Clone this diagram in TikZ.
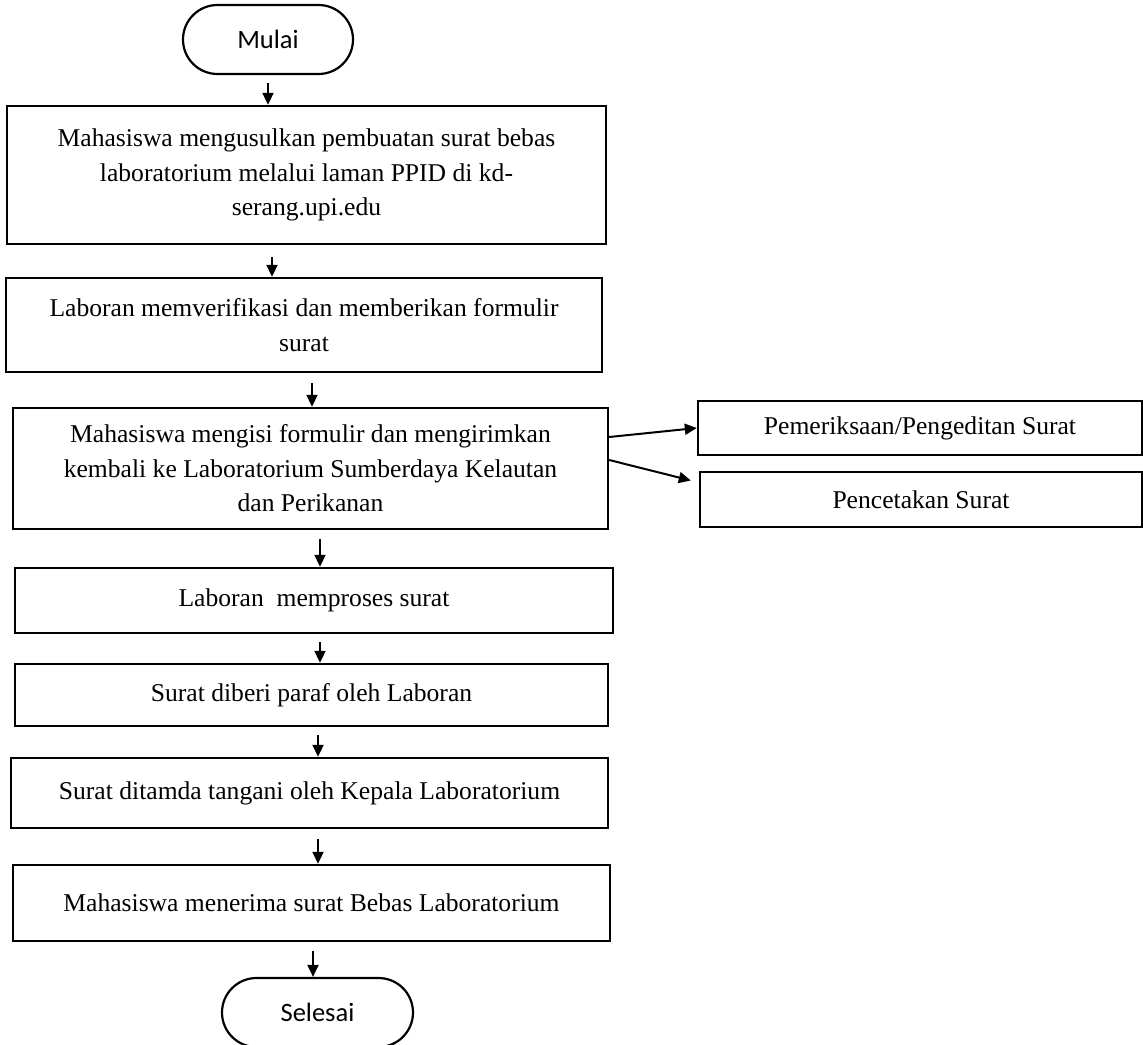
\documentclass[tikz,border=0pt]{standalone}
\usepackage{fontspec}
\setmainfont{Liberation Serif}
\newfontfamily\termfont{Carlito}
\usetikzlibrary{shapes.misc,arrows.meta}
\begin{document}
\begin{tikzpicture}[x=1pt,y=-1pt,
  box/.style={draw,line width=2.4pt,align=center,inner sep=0pt,
    font=\fontsize{25.6}{34.5}\selectfont},
  term/.style={draw,line width=2.2pt,rounded rectangle,inner sep=0pt,
    font=\termfont\fontsize{26.5}{30}\selectfont},
  flow/.style={line width=2pt,-{Triangle[length=12pt,width=11pt]}}]
\useasboundingbox (0,0) rectangle (1143,1044);
\clip (0,0) rectangle (1143,1044);

% terminators
\node[term,minimum width=170pt,minimum height=69pt] (mulai) at (268,39.5) {Mulai};
\node[term,minimum width=191pt,minimum height=69pt] (selesai) at (317.5,1012.5) {Selesai};

% process steps
\node[box,minimum width=599pt,minimum height=138pt] (b1) at (306.5,175)
  {Mahasiswa mengusulkan pembuatan surat bebas\\laboratorium melalui laman PPID di kd-\\serang.upi.edu};
\node[box,minimum width=596pt,minimum height=94pt] (b2) at (304,325)
  {Laboran memverifikasi dan memberikan formulir\\surat};
\node[box,minimum width=595pt,minimum height=121pt] (b3) at (310.5,468.5)
  {Mahasiswa mengisi formulir dan mengirimkan\\kembali ke Laboratorium Sumberdaya Kelautan\\dan Perikanan};
\node[box,minimum width=598pt,minimum height=65pt] (b4) at (314,600.5)
  {Laboran~ memproses surat};
\node[box,minimum width=593pt,minimum height=62pt] (b5) at (311.5,695)
  {Surat diberi paraf oleh Laboran};
\node[box,minimum width=597pt,minimum height=70pt] (b6) at (309.5,793)
  {Surat ditamda tangani oleh Kepala Laboratorium};
\node[box,minimum width=597pt,minimum height=76pt] (b7) at (311.5,903)
  {Mahasiswa menerima surat Bebas Laboratorium};

% side steps
\node[box,minimum width=444pt,minimum height=54pt] (pa) at (920,428)
  {Pemeriksaan/Pengeditan Surat};
\node[box,minimum width=442pt,minimum height=55pt] (pb) at (921,499.5)
  {Pencetakan Surat};

% main flow
\draw[flow] ([yshift=-8pt]mulai.south) -- (mulai.south |- b1.north);
\draw[flow] ([xshift=-34.5pt,yshift=-12pt]b1.south) -- ([xshift=-34.5pt]b1.south |- b2.north);
\draw[flow] ([xshift=8pt,yshift=-10pt]b2.south) -- ([xshift=8pt]b2.south |- b3.north);
\draw[flow] ([xshift=9.5pt,yshift=-9pt]b3.south) -- ([xshift=9.5pt]b3.south |- b4.north);
\draw[flow] ([xshift=6pt,yshift=-8pt]b4.south) -- ([xshift=6pt]b4.south |- b5.north);
\draw[flow] ([xshift=6.5pt,yshift=-8pt]b5.south) -- ([xshift=6.5pt]b5.south |- b6.north);
\draw[flow] ([xshift=8.5pt,yshift=-10pt]b6.south) -- ([xshift=8.5pt]b6.south |- b7.north);
\draw[flow] ([xshift=1.5pt,yshift=-9pt]b7.south) -- ([xshift=1.5pt]b7.south |- selesai.north);

% branches to the side steps
\draw[flow] ([yshift=31.5pt]b3.east) -- (pa.west);
\draw[flow] ([yshift=8.5pt]b3.east) -- ([xshift=-8pt,yshift=19pt]pb.west);
\end{tikzpicture}
\end{document}
